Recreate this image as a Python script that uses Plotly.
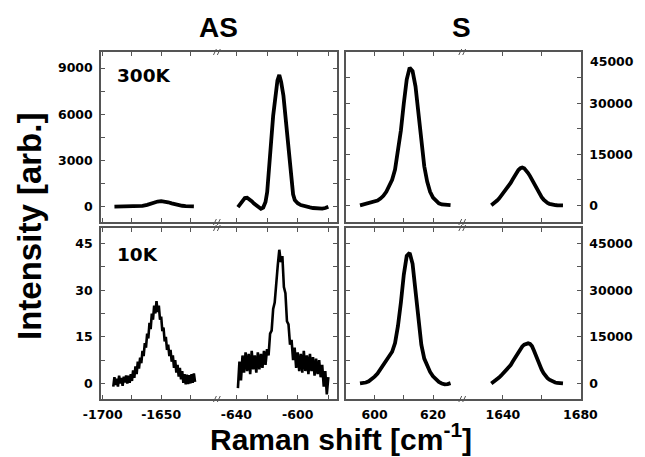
import plotly.graph_objects as go

# ---------------- data ----------------
# 300 K, anti-Stokes, low segment
as300_a_x = [-1690, -1686, -1682, -1678, -1674, -1670, -1666, -1662, -1659, -1656, -1653, -1650,
             -1647, -1644, -1641, -1638, -1635, -1632, -1629, -1626, -1622]
as300_a_y = [0, 5, 0, 10, 15, 25, 50, 110, 190, 270, 330, 350,
             330, 280, 210, 140, 90, 55, 35, 25, 20]
# 300 K, anti-Stokes, high segment
as300_b_x = [-639, -637.5, -636, -634.5, -633, -631.5, -630, -628.5, -627, -625.5, -624, -622.5,
             -621, -619.9, -618.5, -617.3, -616, -614.6, -613.2, -612, -610.8, -609.3, -608,
             -606.5, -605.2, -604, -603, -601.9, -600, -598, -596, -594, -592, -590, -588,
             -586, -584, -582, -580]
as300_b_y = [-30, 200, 420, 550, 570, 480, 350, 200, 60, -60, -140, -60,
             300, 940, 2400, 4250, 5900, 7200, 8200, 8550, 8100, 7200, 5800,
             4250, 2600, 1370, 800, 420, 220, 100, 30, 0, -50, -90, -120,
             -100, -130, -90, -10]
# 10 K, anti-Stokes, low segment (noisy)
as10_a_x = list(range(-1691, -1620))
as10_a_y = [-1, 2, -0.5, 1.5, -1, 2.5, 0, 1.8, -0.8, 2.2, 0.3, 2.6, 0, 2.5, 0.2, 3, 0.8, 4.2, 1.8,
            5.5, 3, 7, 4.8, 8.3, 6.5, 10.5, 8.8, 13, 11.5, 16, 14.5, 19.5, 17.5, 22.5, 20.5, 25,
            22.5, 26.5, 23, 25, 20.5, 21.5, 16.8, 18, 13.5, 15, 10.8, 12.5, 8.8, 10.8, 7, 9, 5,
            7.5, 3.5, 6, 2.2, 5, 1.3, 4, 0.2, 3, -0.3, 2.8, -0.2, 2.7, 0, 3, 0.2, 3.2, 0.5]
# 10 K, anti-Stokes, high segment (noisy)
as10_b_x = list(range(-639, -579))
as10_b_y = [-1.5, 7, 1, 9, 3.5, 10, 4, 9.5, 3, 10.5, 4.5, 9, 3.5, 10, 4.5, 9.5, 5, 10.5, 6, 11,
            9, 16, 17, 24, 26, 33, 38, 43, 39, 41, 31, 29, 20, 19, 12.5, 14, 7.5, 11.5, 5, 10,
            4, 9.5, 3.5, 10.5, 4, 9, 3, 9.5, 4, 8.5, 2.5, 8, 3, 7.5, 2, 6, -1, 4, -3.5, 2]
# 300 K, Stokes
s300_a_x = list(range(595, 627))
s300_a_y = [0, 200, 400, 600, 800, 1100, 1400, 2000, 2800, 4000, 5500, 7500, 10500, 15500,
            22000, 30000, 37000, 40500, 39500, 35000, 27000, 18000, 11500, 7000, 4000, 2300,
            1300, 600, 250, 100, 0, 50]
s300_b_x = list(range(1634, 1672))
s300_b_y = [0, 400, 900, 1400, 2000, 2700, 3400, 4100, 4800, 5700, 6600, 7600, 8600, 9600,
            10400, 10900, 11100, 10900, 10300, 9500, 8600, 7500, 6300, 5200, 4100, 3200, 2400,
            1700, 1100, 700, 450, 250, 150, 80, 30, 0, 0, 0]
# 10 K, Stokes
s10_a_x = list(range(595, 627))
s10_a_y = [0, 100, 300, 700, 1300, 2200, 3200, 4600, 6000, 7300, 8500, 10200, 13000, 18500,
           26000, 35000, 41000, 42000, 38500, 29500, 20000, 12500, 8000, 5500, 3700, 2300,
           1300, 500, 0, -300, -200, 100]
s10_b_x = list(range(1634, 1672))
s10_b_y = [0, 400, 900, 1400, 1900, 2500, 3100, 3700, 4300, 5000, 5900, 7000, 8100, 9200,
           10200, 11100, 11900, 12500, 12800, 12900, 12700, 12000, 10600, 8900, 7200, 5700,
           4400, 3300, 2400, 1700, 1200, 800, 500, 300, 150, 50, 0, 0]

# axis ranges and ticks
x_ranges = [[-1701.5, -1601.5], [-652.1, -574.6], [590.33, 630.33], [1619.5, 1680.3]]
x_major = [[-1700, -1650], [-640, -600], [600, 620], [1640, 1680]]
x_minor = [[-1675, -1625], [-620, -580], [610], [1660]]
y_ranges = [[[-1000, 10040], [-4900, 45100]], [[-5, 50], [-5000, 50000]]]
y_major = [[[0, 3000, 6000, 9000], [0, 15000, 30000]],
           [[0, 15, 30, 45], [0, 15000, 30000, 45000]]]
y_minor = [[[1500, 4500, 7500], [7500, 22500, 37500, 45000]],
           [[7.5, 22.5, 37.5], [7500, 22500, 37500]]]
top_right_extra_label = "45000"

column_titles = ["AS", "S"]
row_labels = ["300K", "10K"]
x_title = "Raman shift [cm<sup>-1</sup>]"
y_title = "Intensity [arb.]"

series = [[(as300_a_x, as300_a_y), (as300_b_x, as300_b_y), (s300_a_x, s300_a_y), (s300_b_x, s300_b_y)],
          [(as10_a_x, as10_a_y), (as10_b_x, as10_b_y), (s10_a_x, s10_a_y), (s10_b_x, s10_b_y)]]

# ---------------- layout geometry ----------------
W, H = 645, 457
ML, MR, MT, MB = 101, 51, 52, 58          # margins = outer edges of the panel grid
PW, PH = W - ML - MR, H - MT - MB          # plot area size
col_px = [(101, 221), (221, 343), (353, 473), (473, 594)]
row_px = [(52, 222), (228, 399)]
FRAME = "#555555"
TICKFONT = dict(family="DejaVu Sans", size=12.5, color="black", weight="bold")


def fx(p):
    return (p - ML) / PW


def fy(p):
    return 1 - (p - MT) / PH


fig = go.Figure()
layout = {}
for r in range(2):
    for c in range(4):
        i = r * 4 + c + 1
        sfx = "" if i == 1 else str(i)
        xs, ys = series[r][c]
        noisy = (r == 1 and c < 2)
        fig.add_trace(go.Scatter(x=xs, y=ys, mode="lines",
                                 line=dict(color="black", width=2.6 if noisy else 3.8),
                                 xaxis="x" + sfx, yaxis="y" + sfx, showlegend=False))
        p, s = c // 2, c % 2
        layout["xaxis" + sfx] = dict(
            domain=[max(0.0, fx(col_px[c][0])), min(1.0, fx(col_px[c][1]))],
            range=x_ranges[c], anchor="y" + sfx,
            showline=True, linecolor=FRAME, linewidth=1.5, mirror="ticks",
            ticks="inside", ticklen=4, tickcolor=FRAME, tickwidth=1,
            tickmode="array", tickvals=x_major[c], ticktext=[str(v) for v in x_major[c]],
            minor=dict(tickmode="array", tickvals=x_minor[c], ticks="inside", ticklen=4,
                       tickcolor=FRAME, tickwidth=1, showgrid=False),
            showticklabels=(r == 1), showgrid=False, zeroline=False, tickfont=TICKFONT,
            ticklabelstandoff=3)
        show_lab = (p == 0 and s == 0) or (p == 1 and s == 1)
        layout["yaxis" + sfx] = dict(
            domain=[max(0.0, fy(row_px[r][1])), min(1.0, fy(row_px[r][0]))],
            range=y_ranges[r][p], anchor="x" + sfx,
            side="left" if s == 0 else "right",
            showline=True, linecolor=FRAME, linewidth=1.5,
            ticks="inside", ticklen=4, tickcolor=FRAME, tickwidth=1,
            tickmode="array", tickvals=y_major[r][p], ticktext=[str(v) for v in y_major[r][p]],
            minor=dict(tickmode="array", tickvals=y_minor[r][p], ticks="inside", ticklen=4,
                       tickcolor=FRAME, tickwidth=1, showgrid=False),
            showticklabels=show_lab, showgrid=False, zeroline=False, tickfont=TICKFONT,
            ticklabelstandoff=4)

fig.update_layout(**layout)

ann = []
titles = [dict(text=column_titles[0], x=fx(222), y=fy(28)),
          dict(text=column_titles[1], x=fx(471), y=fy(28))]
for a in titles:
    a.update(xref="paper", yref="paper", showarrow=False, xanchor="center", yanchor="middle",
             font=dict(family="Liberation Sans", size=28, color="black", weight="bold"))
ann += titles
panel = [dict(text=row_labels[0], x=fx(145.5), y=fy(75)), dict(text=row_labels[1], x=fx(138), y=fy(254.5))]
for a in panel:
    a.update(xref="paper", yref="paper", showarrow=False, xanchor="center", yanchor="middle",
             font=dict(family="DejaVu Sans", size=18.5, color="black", weight="bold"))
ann += panel
ann.append(dict(text=top_right_extra_label, x=fx(601), y=fy(62), xref="paper", yref="paper",
                showarrow=False, xanchor="left", yanchor="middle", font=TICKFONT))
ann.append(dict(text=x_title, x=fx(347), y=fy(437), xref="paper", yref="paper", showarrow=False,
                xanchor="center", yanchor="middle",
                font=dict(family="Liberation Sans", size=30, color="black", weight="bold")))
ann.append(dict(text=y_title, x=fx(27), y=fy(226), xref="paper", yref="paper", showarrow=False,
                xanchor="center", yanchor="middle", textangle=-90,
                font=dict(family="Liberation Sans", size=33, color="black", weight="bold")))

# break marks "//" on the frame
shapes = []
for bx in (221, 473):
    for yy in (52, 222, 228, 399):
        for dx in (-3, 1):
            shapes.append(dict(type="line", xref="paper", yref="paper",
                               x0=fx(bx + dx - 1.5), y0=fy(yy + 3), x1=fx(bx + dx + 1.5), y1=fy(yy - 3),
                               line=dict(color=FRAME, width=1)))

fig.update_layout(width=W, height=H, margin=dict(l=ML, r=MR, t=MT, b=MB, pad=0),
                  paper_bgcolor="white", plot_bgcolor="white",
                  annotations=ann, shapes=shapes)
fig.write_html("out.html")
